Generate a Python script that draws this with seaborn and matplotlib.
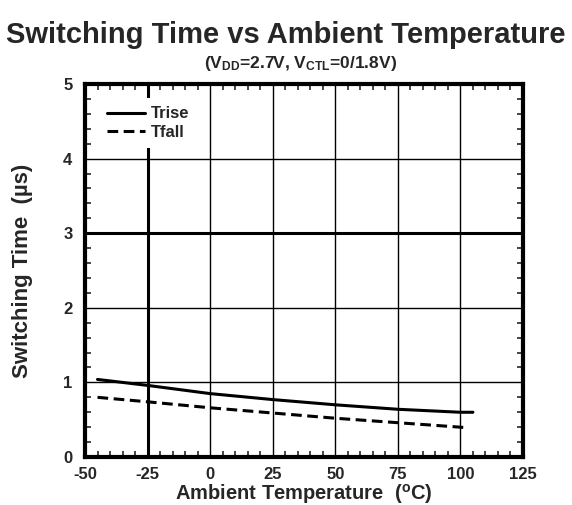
import numpy as np
import pandas as pd
import seaborn as sns
import matplotlib.pyplot as plt
from matplotlib.ticker import MultipleLocator

# values
temp = [-45, -25, 0, 25, 50, 75, 100, 105]
trise = [1.04, 0.96, 0.85, 0.77, 0.70, 0.64, 0.60, 0.60]
temp_fall = [-45, -25, 0, 25, 50, 75, 100, 103]
tfall = [0.80, 0.74, 0.66, 0.59, 0.52, 0.46, 0.40, 0.39]

df = pd.concat([
    pd.DataFrame({"temp": temp, "t": trise, "series": "Trise"}),
    pd.DataFrame({"temp": temp_fall, "t": tfall, "series": "Tfall"}),
])

sns.set_style("white")
plt.rcParams['font.family'] = ['Liberation Sans', 'DejaVu Sans']
plt.rcParams['font.weight'] = 'bold'
plt.rcParams['axes.unicode_minus'] = False
plt.rcParams['mathtext.fontset'] = 'custom'
plt.rcParams['mathtext.rm'] = 'Liberation Sans:bold'
plt.rcParams['mathtext.bf'] = 'Liberation Sans:bold'
plt.rcParams['mathtext.it'] = 'Liberation Sans:bold'

fig = plt.figure(figsize=(5.72, 5.05), dpi=100)
ax = fig.add_axes([0.1486, 0.095, 0.7657, 0.7387])

sns.lineplot(data=df, x="temp", y="t", hue="series", style="series",
             palette=["black", "black"], dashes={"Trise": "", "Tfall": (3.5, 1.8)},
             linewidth=2.2, ax=ax)

ax.set_xlim(-50, 125)
ax.set_ylim(0, 5)
ax.xaxis.set_major_locator(MultipleLocator(25))
ax.yaxis.set_major_locator(MultipleLocator(1))
ax.xaxis.set_minor_locator(MultipleLocator(5))
ax.yaxis.set_minor_locator(MultipleLocator(0.2))
ax.tick_params(axis="x", which="major", length=0, labelsize=12, pad=7)
ax.tick_params(axis="y", which="major", length=0, labelsize=12, pad=9)
ax.tick_params(which="minor", direction="in", length=4, width=1.2,
               top=True, right=True, bottom=True, left=True)
for lab in ax.get_xticklabels() + ax.get_yticklabels():
    lab.set_fontweight("bold")

ax.grid(True, which="major", color="black", linewidth=1)
ax.axvline(-25, color="black", linewidth=2.2, zorder=0.5)
ax.axhline(3, color="black", linewidth=2.2, zorder=0.5)
ax.set_axisbelow(True)
for s in ax.spines.values():
    s.set_visible(True)
    s.set_linewidth(3)
    s.set_color("black")

ax.set_xlabel(r"Ambient Temperature  ($^{\mathbf{o}}$C)", fontsize=14.5, fontweight="bold", labelpad=0)
ax.set_ylabel("Switching Time  (µs)", fontsize=16, fontweight="bold", labelpad=22)

leg = ax.legend(loc="upper left", bbox_to_anchor=(0.031, 0.962), borderaxespad=0,
                frameon=True, edgecolor="white", facecolor="white", framealpha=1,
                fancybox=False, fontsize=12, handlelength=2.3, handletextpad=0.35,
                labelspacing=0.2, borderpad=0.5, title=None)
for t in leg.get_texts():
    t.set_fontweight("bold")
leg.get_frame().set_linewidth(0)

fig.text(0.5, 0.93, "Switching Time vs Ambient Temperature", ha="center", va="center",
         fontsize=21, fontweight="bold")
fig.text(0.525, 0.874, r"(V$_{\mathbf{DD}}$=2.7V, V$_{\mathbf{CTL}}$=0/1.8V)", ha="center",
         va="center", fontsize=12.5, fontweight="bold")

fig.savefig("out.png", dpi=100)
